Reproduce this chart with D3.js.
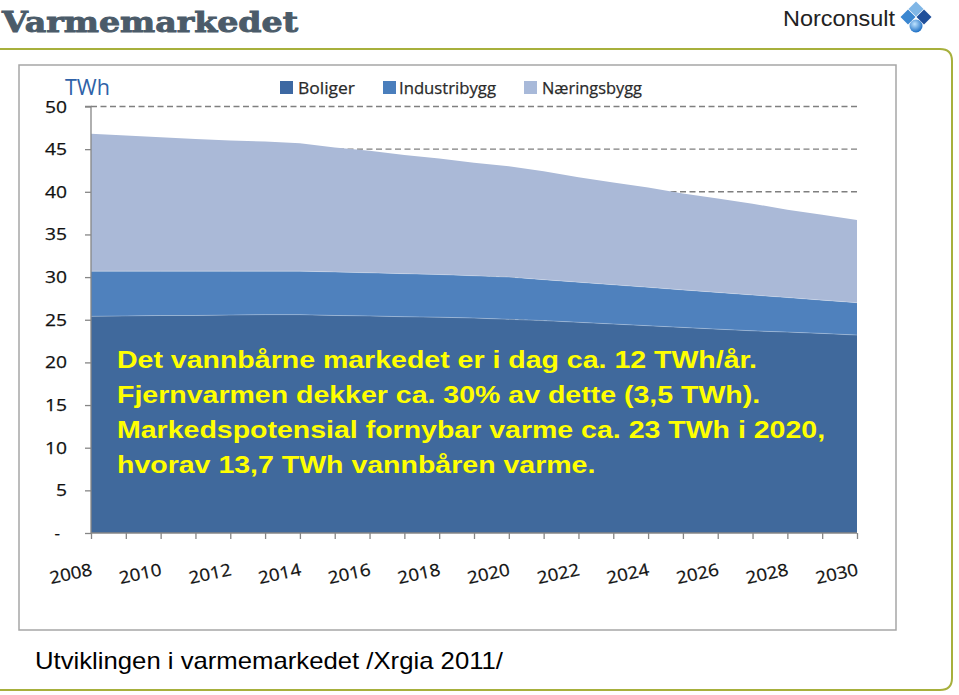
<!DOCTYPE html>
<html>
<head>
<meta charset="utf-8">
<script src="https://cdn.jsdelivr.net/npm/d3@7"></script>
<style>
  html, body { margin: 0; padding: 0; background: #fff; }
  svg { display: block; }
</style>
</head>
<body>
<svg id="chart" width="959" height="695"></svg>
<script>
// ---- data (TWh per year) ----
const years = [2008,2009,2010,2011,2012,2013,2014,2015,2016,2017,2018,2019,2020,2021,2022,2023,2024,2025,2026,2027,2028,2029,2030];
const boliger      = [25.4,25.45,25.5,25.5,25.55,25.6,25.6,25.5,25.45,25.35,25.3,25.2,25.05,24.9,24.7,24.5,24.3,24.1,23.9,23.7,23.55,23.4,23.2];
const industribygg = [5.3,5.25,5.2,5.2,5.15,5.1,5.1,5.1,5.05,5.05,5.0,4.95,4.95,4.8,4.7,4.6,4.5,4.4,4.3,4.2,4.05,3.9,3.8];
const naeringsbygg = [16.1,15.9,15.7,15.5,15.3,15.2,15.0,14.6,14.3,13.9,13.6,13.25,13.0,12.7,12.3,12.0,11.7,11.3,11.0,10.7,10.3,10.0,9.7];
const seriesNames  = ["Boliger","Industribygg","Næringsbygg"];
const yTicks       = [0,5,10,15,20,25,30,35,40,45,50];
const yTickLabels  = ["-","5","10","15","20","25","30","35","40","45","50"];
const xLabelYears  = [2008,2010,2012,2014,2016,2018,2020,2022,2024,2026,2028,2030];
const annotation = [
  "Det vannbårne markedet er i dag ca. 12 TWh/år.",
  "Fjernvarmen dekker ca. 30% av dette (3,5 TWh).",
  "Markedspotensial fornybar varme ca. 23 TWh i 2020,",
  "hvorav 13,7 TWh vannbåren varme."
];

const colors = ["#40699c", "#4f81bd", "#aab9d7"];
const legendColors = ["#3d68a2", "#4a7ebc", "#a8b9d9"];

const svg = d3.select("#chart");

// ---- page frame & titles ----
svg.append("path")
  .attr("d", "M0,49 L940,49 Q952,49 952,61 L952,678 Q952,690 940,690 L0,690")
  .attr("fill", "none").attr("stroke", "#a7b03c").attr("stroke-width", 2);

svg.append("text")
  .attr("x", 2).attr("y", 32)
  .attr("font-family", "DejaVu Serif").attr("font-weight", "bold")
  .attr("font-size", 27).attr("fill", "#4b5b69")
  .attr("stroke", "#4b5b69").attr("stroke-width", 0.9)
  .attr("textLength", 296).attr("lengthAdjust", "spacingAndGlyphs")
  .text("Varmemarkedet");

svg.append("text")
  .attr("x", 783).attr("y", 26)
  .attr("font-family", "Liberation Sans").attr("font-size", 22).attr("fill", "#222")
  .attr("textLength", 112).attr("lengthAdjust", "spacingAndGlyphs")
  .text("Norconsult");

// logo: diamonds
const logo = svg.append("g").attr("transform", "translate(916,17)");
const dia = (cx, cy, r, fill) => logo.append("path")
  .attr("d", `M${cx},${cy-r} L${cx+r},${cy} L${cx},${cy+r} L${cx-r},${cy} Z`).attr("fill", fill);
dia(0, -8, 7.5, "#7fb6e6");
dia(-8, 0, 7.5, "#3a86d0");
dia(8, 0, 7.5, "#1f4f9a");
const grad = svg.append("defs").append("radialGradient").attr("id", "sph")
  .attr("cx", "40%").attr("cy", "35%").attr("r", "65%");
grad.append("stop").attr("offset", "0%").attr("stop-color", "#bfe3ff");
grad.append("stop").attr("offset", "100%").attr("stop-color", "#1d6fc4");
logo.append("circle").attr("cx", 0).attr("cy", 9).attr("r", 6.5).attr("fill", "url(#sph)");

// chart box
svg.append("rect").attr("x", 19).attr("y", 65).attr("width", 877).attr("height", 565)
  .attr("fill", "#fff").attr("stroke", "#a6a6a6").attr("stroke-width", 1.5);

// caption
svg.append("text")
  .attr("x", 35).attr("y", 669)
  .attr("font-family", "Liberation Sans").attr("font-size", 24).attr("fill", "#000")
  .attr("textLength", 468).attr("lengthAdjust", "spacingAndGlyphs")
  .text("Utviklingen i varmemarkedet /Xrgia 2011/");

// ---- scales ----
const x = d3.scaleLinear().domain([2008, 2030]).range([91, 857]);
const y = d3.scaleLinear().domain([0, 50]).range([533, 106.5]);

// gridlines (dashed), drawn behind areas
svg.append("g").selectAll("line").data(yTicks.filter(d => d > 0)).join("line")
  .attr("x1", 91).attr("x2", 857)
  .attr("y1", d => y(d)).attr("y2", d => y(d))
  .attr("stroke", "#7f7f7f").attr("stroke-width", 1.4).attr("stroke-dasharray", "6,3.5");

// stacked areas
const table = years.map((yr, i) => ({ year: yr, Boliger: boliger[i], Industribygg: industribygg[i], "Næringsbygg": naeringsbygg[i] }));
const stack = d3.stack().keys(seriesNames)(table);
const area = d3.area().x(d => x(d.data.year)).y0(d => y(d[0])).y1(d => y(d[1]));
svg.append("g").selectAll("path").data(stack).join("path")
  .attr("d", area).attr("fill", (d, i) => colors[i]);
// faint boundary lines
const line = d3.line().x(d => x(d.data.year)).y(d => y(d[1]));
svg.append("g").selectAll("path").data(stack.slice(0, 2)).join("path")
  .attr("d", line).attr("fill", "none").attr("stroke", "rgba(255,255,255,0.25)").attr("stroke-width", 1);

// axes
const yAxis = d3.axisLeft(y).tickValues(yTicks).tickSize(6).tickFormat((d, i) => "");
const gy = svg.append("g").attr("transform", "translate(91,0)").call(yAxis);
gy.select(".domain").attr("stroke", "#868686").attr("stroke-width", 1.3).attr("d", `M-6,${y(50)}H0V${y(0)}`);
gy.selectAll(".tick line").attr("stroke", "#868686").attr("stroke-width", 1.3);

svg.append("g").selectAll("text").data(yTicks).join("text")
  .attr("x", (d) => d === 0 ? 60 : 67).attr("y", d => y(d) + 6)
  .attr("text-anchor", "end")
  .attr("font-family", "Open Sans").attr("font-size", 17).attr("fill", "#111")
  .attr("stroke", "#111").attr("stroke-width", 0.25)
  .text((d, i) => yTickLabels[i])
  .each(function(d, i) {
    const t = yTickLabels[i];
    if (t !== "-") d3.select(this).attr("textLength", t.length * 11).attr("lengthAdjust", "spacingAndGlyphs");
  });

const xAxis = d3.axisBottom(x).tickValues(years).tickSize(6).tickFormat("");
const gx = svg.append("g").attr("transform", `translate(0,${y(0)})`).call(xAxis);
gx.select(".domain").attr("stroke", "#868686").attr("stroke-width", 1.3).attr("d", `M91,0H857`);
gx.selectAll(".tick line").attr("stroke", "#868686").attr("stroke-width", 1.3);

svg.append("g").selectAll("text").data(xLabelYears).join("text")
  .attr("transform", d => `translate(${x(d) + 2},575) rotate(-12)`)
  .attr("text-anchor", "end")
  .attr("font-family", "Open Sans").attr("font-size", 17).attr("fill", "#111")
  .attr("stroke", "#111").attr("stroke-width", 0.25)
  .attr("textLength", 43).attr("lengthAdjust", "spacingAndGlyphs")
  .text(d => d);

// unit label
svg.append("text").attr("x", 65).attr("y", 95)
  .attr("font-family", "Open Sans").attr("font-size", 21).attr("fill", "#2f62a8")
  .attr("textLength", 45).attr("lengthAdjust", "spacingAndGlyphs")
  .text("TWh");

// legend
const legendX = [280, 383, 524];
const legendTextX = [298, 399, 542];
const legendW = [57, 97, 100];
const lg = svg.append("g");
seriesNames.forEach((name, i) => {
  lg.append("rect").attr("x", legendX[i]).attr("y", 81).attr("width", 13).attr("height", 13).attr("fill", legendColors[i]);
  lg.append("text").attr("x", legendTextX[i]).attr("y", 94)
    .attr("font-family", "Open Sans").attr("font-size", 17).attr("fill", "#2a2a2a")
    .attr("stroke", "#2a2a2a").attr("stroke-width", 0.25)
    .attr("textLength", legendW[i]).attr("lengthAdjust", "spacingAndGlyphs")
    .text(name);
});

// annotation
const ann = svg.append("g").attr("transform", "translate(117,0) scale(1.24,1)");
annotation.forEach((t, i) => {
  ann.append("text").attr("x", 0).attr("y", 368 + i * 34.9)
    .attr("font-family", "Liberation Sans").attr("font-weight", "bold")
    .attr("font-size", 23).attr("fill", "#ffff00")
    .text(t);
});
</script>
</body>
</html>
